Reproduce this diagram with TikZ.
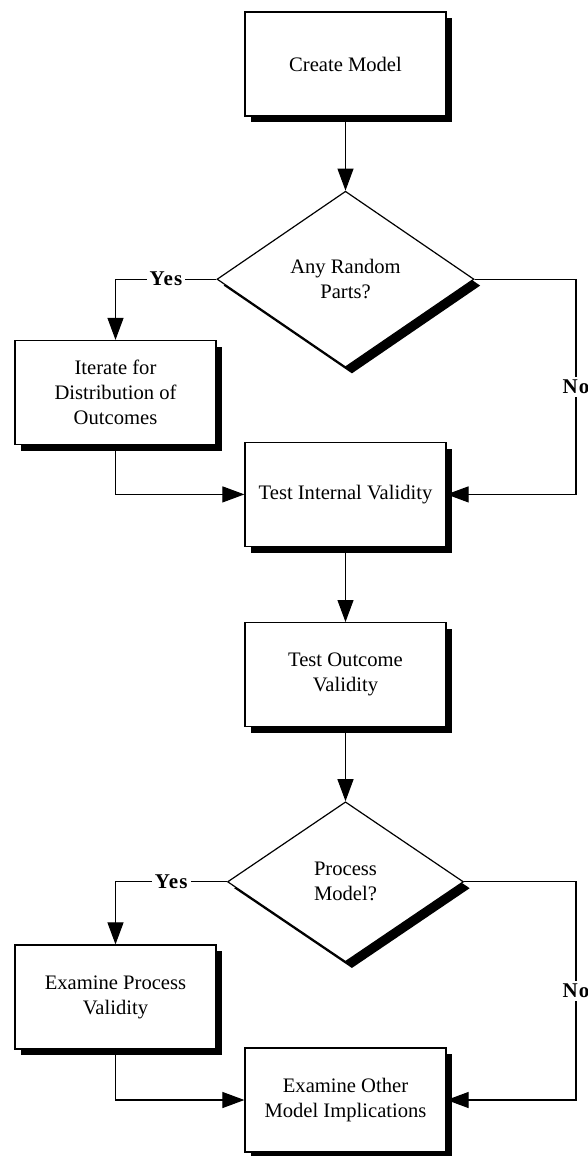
\documentclass[tikz,border=0pt]{standalone}
\usepackage{fontspec}
\setmainfont{Liberation Serif}
\usetikzlibrary{positioning,shapes.geometric,shadows,arrows.meta}
\tikzset{flow box/.style={rectangle,draw,fill=white,line width=0.6pt,minimum width=100.5pt,minimum height=52pt,inner sep=2pt,align=center,font=\fontsize{10.3}{12.5}\selectfont,drop shadow={shadow xshift=3.2pt,shadow yshift=-3.2pt,fill=black,opacity=1}},
         decision node/.style={diamond,draw,fill=white,line width=0.6pt,aspect=1.4,inner sep=1pt,align=center,font=\fontsize{10.3}{12.5}\selectfont,drop shadow={shadow xshift=3.2pt,shadow yshift=-3.2pt,fill=black,opacity=1}},
         flow line/.style={draw,line width=0.55pt,-{Triangle[length=11pt,width=8pt]}},
         answer label/.style={fill=white,inner sep=1.5pt,font=\fontsize{10.5}{12}\selectfont\bfseries\addfontfeatures{LetterSpace=6}},
            }
\begin{document}
\begin{tikzpicture}
    \useasboundingbox (0,0) rectangle (294pt,-578pt);

    \node[flow box] (create) at (172.75pt,-32pt) {Create Model};
    \node[decision node,minimum width=128.5pt,minimum height=88pt] (random) [below = 37pt of create] {Any Random\\Parts?};
    \node[flow box] (iterate) at (57.75pt,-196.25pt) {Iterate for\\Distribution of\\Outcomes};
    \node[flow box] (internal) [below = 37pt of random] {Test Internal Validity};
    \node[flow box] (outcome) [below = 37.5pt of internal] {Test Outcome\\Validity};
    \node[decision node,minimum width=118pt,minimum height=80pt] (process) [below = 37pt of outcome] {Process\\Model?};
    \node[flow box] (procval) at (57.75pt,-498.5pt) {Examine Process\\Validity};
    \node[flow box] (other) [below = 42.5pt of process] {Examine Other\\Model Implications};

    \coordinate (edge) at (288pt,0pt);

    \path[flow line]
    (create) edge (random)
    (internal) edge (outcome)
    (outcome) edge (process);

    \draw[flow line] (random.west) -| node[answer label,pos=.25] {Yes} (iterate.north);
    \draw[flow line] (iterate.south) |- (internal.west);
    \draw[flow line] (random.east) -- (random.east -| edge) |- node[answer label,pos=.25] {No} (internal.east);

    \draw[flow line] (process.west) -| node[answer label,pos=.25] {Yes} (procval.north);
    \draw[flow line] (procval.south) |- (other.west);
    \draw[flow line] (process.east) -- (process.east -| edge) |- node[answer label,pos=.25] {No} (other.east);
\end{tikzpicture}
\end{document}
